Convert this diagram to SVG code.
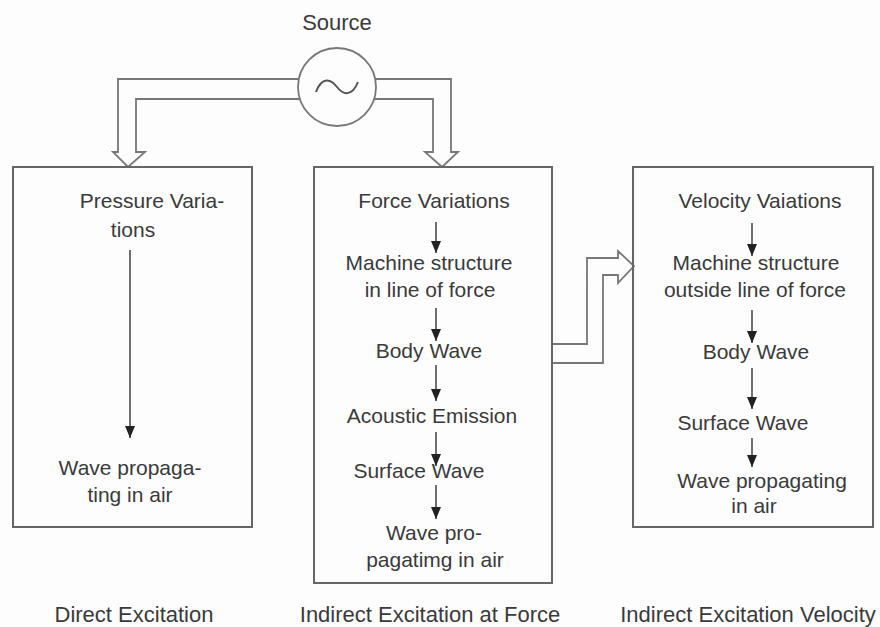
<svg xmlns="http://www.w3.org/2000/svg" width="880" height="627" viewBox="0 0 880 627">
<style>
.bg{fill:#fdfdfd}
.box{fill:none;stroke:#666;stroke-width:2}
.conn{fill:none;stroke:#777;stroke-width:1.8;stroke-linejoin:miter}
.t{font-family:"Liberation Sans",Arial,sans-serif;font-size:21px;fill:#3a3a3a;text-anchor:middle}
.lbl{font-family:"Liberation Sans",Arial,sans-serif;font-size:22px;fill:#3a3a3a;text-anchor:middle}
.ar{stroke:#333;stroke-width:1.4}
</style>
<defs>
<marker id="ah" viewBox="0 0 12 10" refX="12" refY="5" markerWidth="12" markerHeight="10" markerUnits="userSpaceOnUse" orient="auto">
<path d="M0,0 L12,5 L0,10 Z" fill="#222"/>
</marker>
</defs>
<rect class="bg" x="0" y="0" width="880" height="627"/>
<g id="connectors">
<path class="conn" d="M299,79 H118 V152 H113 L128,167 L145,152 H136 V99 H300"/>
<path class="conn" d="M375,79 H451 V152 H458 L442,167 L425,152 H433 V99 H374"/>
<path class="conn" d="M552,344 H587 V258 H618 V251 L634,266 L618,283 V275 H603 V363 H552"/>
</g>
<g id="source">
<text class="lbl" x="337" y="30">Source</text>
<circle cx="337" cy="87" r="39" fill="#fdfdfd" stroke="#777" stroke-width="1.8"/>
<path d="M316,92 C322,76 331,79 337,87 C343,95 352,97 358,82" fill="none" stroke="#555" stroke-width="2"/>
</g>
<g id="direct">
<rect class="box" x="13" y="167" width="239" height="360"/>
<text class="t" x="152" y="208">Pressure Varia-</text>
<text class="t" x="133" y="237">tions</text>
<line class="ar" x1="130" y1="250" x2="130" y2="438" marker-end="url(#ah)"/>
<text class="t" x="130" y="475">Wave propaga-</text>
<text class="t" x="130" y="502">ting in air</text>
</g>
<g id="force">
<rect class="box" x="314" y="167" width="238" height="416"/>
<text class="t" x="434" y="208">Force Variations</text>
<line class="ar" x1="436" y1="222" x2="436" y2="253" marker-end="url(#ah)"/>
<text class="t" x="429" y="270">Machine structure</text>
<text class="t" x="430" y="297">in line of force</text>
<line class="ar" x1="436" y1="308" x2="436" y2="341" marker-end="url(#ah)"/>
<text class="t" x="429" y="358">Body Wave</text>
<line class="ar" x1="436" y1="365" x2="436" y2="401" marker-end="url(#ah)"/>
<text class="t" x="432" y="423">Acoustic Emission</text>
<line class="ar" x1="436" y1="432" x2="436" y2="466" marker-end="url(#ah)"/>
<text class="t" x="419" y="478">Surface Wave</text>
<line class="ar" x1="436" y1="485" x2="436" y2="519" marker-end="url(#ah)"/>
<text class="t" x="434" y="540">Wave pro-</text>
<text class="t" x="435" y="567">pagatimg in air</text>
</g>
<g id="velocity">
<rect class="box" x="633" y="167" width="240" height="360"/>
<text class="t" x="760" y="208">Velocity Vaiations</text>
<line class="ar" x1="752" y1="223" x2="752" y2="256" marker-end="url(#ah)"/>
<text class="t" x="756" y="270">Machine structure</text>
<text class="t" x="755" y="297">outside line of force</text>
<line class="ar" x1="752" y1="310" x2="752" y2="343" marker-end="url(#ah)"/>
<text class="t" x="756" y="359">Body Wave</text>
<line class="ar" x1="752" y1="368" x2="752" y2="409" marker-end="url(#ah)"/>
<text class="t" x="743" y="430">Surface Wave</text>
<line class="ar" x1="752" y1="438" x2="752" y2="467" marker-end="url(#ah)"/>
<text class="t" x="762" y="488">Wave propagating</text>
<text class="t" x="754" y="513">in air</text>
</g>
<g id="labels">
<text class="lbl" x="134" y="622">Direct Excitation</text>
<text class="lbl" x="430" y="622">Indirect Excitation at Force</text>
<text class="lbl" x="748" y="622">Indirect Excitation Velocity</text>
</g>
</svg>
